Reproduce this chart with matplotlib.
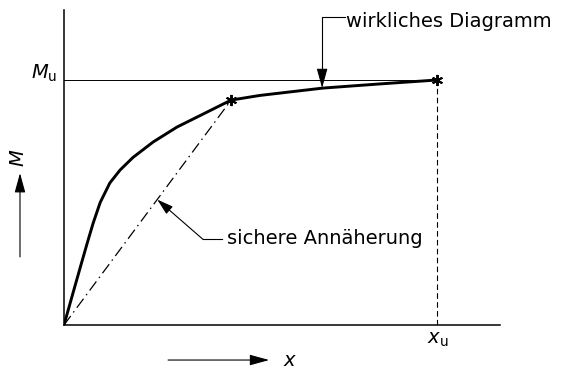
import matplotlib

matplotlib.use("Agg")

import matplotlib.pyplot as plt

# real M-x curve, normalised to x_u = 1, M_u = 1
curve_x = [0.0, 0.024, 0.043, 0.062, 0.078, 0.097, 0.123, 0.150, 0.185, 0.239,
           0.303, 0.365, 0.448, 0.525, 0.694, 0.847, 1.0]
curve_m = [0.0, 0.130, 0.232, 0.333, 0.415, 0.500, 0.580, 0.632, 0.684, 0.747,
           0.808, 0.855, 0.918, 0.937, 0.967, 0.984, 1.0]

# safe approximation: straight line up to the chosen point
safe_x = [0.0, 0.448]
safe_m = [0.0, 0.918]

x_u = 1.0
m_u = 1.0

ink = "black"

fig = plt.figure(figsize=(5.61, 3.74), dpi=100)
ax = fig.add_axes([64 / 561, 49 / 374, 436 / 561, 315 / 374])
ax.set_xlim(0, 436 / 373)
ax.set_ylim(0, 315 / 245)
for side in ("top", "right"):
    ax.spines[side].set_visible(False)
for side in ("left", "bottom"):
    ax.spines[side].set_linewidth(1.1)
ax.set_xticks([])
ax.set_yticks([])

# M_u level and x_u drop line
ax.plot([0, x_u], [m_u, m_u], color=ink, linewidth=0.7)
ax.plot([x_u, x_u], [0, m_u], color=ink, linewidth=0.8, linestyle=(0, (5, 3)))

ax.plot(curve_x, curve_m, color=ink, linewidth=2.1, solid_capstyle="round",
        solid_joinstyle="round")
ax.plot(safe_x, safe_m, color=ink, linewidth=0.9, linestyle=(0, (9, 3.5, 1.2, 3.5)))
ax.plot([safe_x[-1], x_u], [safe_m[-1], m_u], linestyle="none", marker=(6, 2, 0),
        markersize=8, markeredgewidth=1.4, color=ink)

txt = dict(fontsize=14, family="DejaVu Sans", color=ink)
arrow = dict(arrowstyle="-|>,head_length=1.2,head_width=0.33", color=ink, lw=0.8,
             mutation_scale=10, shrinkA=0, shrinkB=0)

ax.text(-0.017, 1.004, r"$M_\mathrm{u}$", ha="right", va="baseline", clip_on=False, **txt)
ax.text(1.003, -0.061, r"$x_\mathrm{u}$", ha="center", va="center", clip_on=False, **txt)

# axis arrows with labels
ax.annotate("", xy=(-0.118, 0.620), xytext=(-0.118, 0.278), arrowprops=arrow,
            annotation_clip=False)
ax.text(-0.122, 0.682, r"$M$", rotation=90, ha="center", va="center", clip_on=False, **txt)
ax.annotate("", xy=(0.55, -0.143), xytext=(0.279, -0.143), arrowprops=arrow,
            annotation_clip=False)
ax.text(0.606, -0.143, r"$x$", ha="center", va="center", clip_on=False, **txt)

# leader for the real curve
ax.plot([0.753, 0.692, 0.692], [1.259, 1.259, 1.02], color=ink, linewidth=0.8, clip_on=False)
ax.annotate("", xy=(0.692, 0.967), xytext=(0.692, 1.04), arrowprops=arrow,
            annotation_clip=False)
ax.text(0.757, 1.216, "wirkliches Diagramm", ha="left", va="baseline", clip_on=False, **txt)

# leader for the safe approximation
ax.plot([0.424, 0.373], [0.349, 0.349], color=ink, linewidth=0.8)
ax.annotate("", xy=(0.25, 0.512), xytext=(0.373, 0.349),
            arrowprops=dict(arrow, arrowstyle="-|>,head_length=1.0,head_width=0.3"))
ax.text(0.437, 0.331, "sichere Annäherung", ha="left", va="baseline", clip_on=False, **txt)

fig.savefig("out.png", dpi=100)
plt.close(fig)
